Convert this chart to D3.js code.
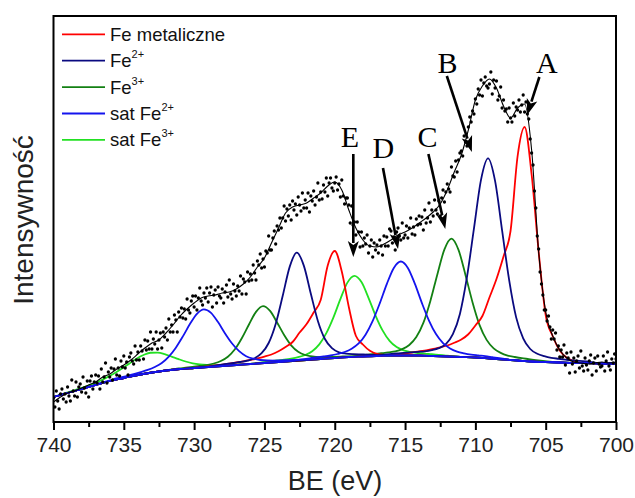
<!DOCTYPE html>
<html><head><meta charset="utf-8">
<script src="https://cdn.jsdelivr.net/npm/d3@7"></script>
<style>
html,body{margin:0;padding:0;background:#fff;}
svg{display:block;font-family:"Liberation Sans",Arial,sans-serif;}
</style></head><body>
<svg id="chart" width="635" height="498"></svg>
<script>
// ---------- DATA (binding energy in eV, intensity in arbitrary units) ----------
const xTicks = [740, 735, 730, 725, 720, 715, 710, 705, 700];
const xMinorTicks = [737.5, 732.5, 727.5, 722.5, 717.5, 712.5, 707.5, 702.5];

// Background (eV, a.u.)
const bgBE = [740,739,738,737,736,735,734,733,732,731,730,729,728,727,726,725,724,723,722,721,720,719,718,717,716,715,714,713,712,711,710,709,708,707,706,705,704,703,702,701,700];
const bgI  = [25,29,33,37,41,44,47,49.5,51.5,53,54,55,56,57,58,59,60,61,62,63,64,65,65.5,66,66.5,66.5,66.5,66,65.5,65,64.5,63.5,62.5,61.5,60.5,60,59.5,59,59,58.5,58.5];

// Measured spectrum: first point 740.0 eV, step -0.1 eV
const dataStartBE = 740.0, dataStepBE = 0.1;
const dataI = [
24,15,31,21,13,28,33,23,28,20, 35,26,21,42,31,26,40,25,35,38,
30,45,34,29,41,25,41,46,33,40, 47,39,46,33,53,40,45,59,39,50,
45,54,42,53,63,47,54,46,61,55, 66,54,60,47,65,69,61,58,76,62,
70,62,76,71,63,82,72,81,73,90, 73,83,78,90,73,82,89,74,90,85,
94,82,103,90,97,90,107,102,90,110, 105,114,104,113,103,123,112,109,121,126,
115,126,112,124,134,121,117,129,124,134, 120,129,135,115,127,132,119,135,126,124,
133,119,130,137,125,142,128,123,138,131, 126,136,131,146,128,143,140,128,150,141,
148,142,157,149,142,161,157,168,154,163, 155,171,169,186,172,172,184,191,178,196,
192,204,194,204,216,201,213,206,217,202, 221,212,218,207,225,217,211,229,214,222,
214,229,210,226,221,231,217,225,239,222, 230,223,237,230,244,226,239,244,234,231,
239,245,232,238,225,242,226,218,224,224, 217,199,216,197,200,187,200,190,175,190,
176,184,178,187,169,176,182,165,179,172, 177,169,182,176,167,186,176,185,176,193,
191,179,185,172,190,194,186,182,199,184, 187,196,184,194,204,188,195,187,203,197,
206,198,205,192,212,199,204,219,200,212, 206,222,212,208,221,206,224,232,220,230,
238,233,230,255,246,245,261,250,262,269, 271,266,286,280,276,295,305,300,311,308,
323,318,333,327,342,326,339,345,336,334, 338,350,328,342,334,341,322,326,335,314,
322,311,313,300,314,304,300,319,306,315, 312,322,310,317,327,310,320,308,303,283,
269,257,231,214,186,173,150,138,127,112, 112,101,106,95,83,92,83,89,72,76,
65,72,65,77,57,69,64,49,70,58, 64,50,61,66,54,71,56,51,64,57,
52,61,67,47,59,64,51,66,58,55, 56,66,51,61,70,56,52,63,59,68,
63];

// Fit envelope: first point 740 eV, step -0.5 eV
const fitStartBE = 740.0, fitStepBE = 0.5;
const fitI = [20,25,29,31,34,37,40,45,48,53,57,62,68,74,79,82,89,97,106,113,
119,124,126,127,129,130,133,138,145,155,164,179,194,209,215,217,219,224,229,236,
240,232,212,194,182,176,175,178,182,187,190,194,199,204,210,218,232,250,267,292,
322,336,343,334,316,304,314,318,272,170,110,86,72,64,60,59,58,59,60,59,60];

// Fitted components: intensity above background, step -0.5 eV from start
const compStepBE = 0.5;
const metal32Start = 716.5;
const metal32 = [0,0.7,1.4,2,3,4.2,5.4,7,9,11,14,17.5,23,32,42,61,80,103,129,204,234,187,110,47,26,12,5,2,0];
const metal12Start = 730.0;
const metal12 = [0,0.3,0.6,1,1.4,1.9,2.5,3.2,4.1,5.1,6.4,8,10.7,14.5,19,28,36,47,59,93,107,86,50,21,12,5.4,2.1,0.9,0];
const fe2p32Start = 717.1;
const fe2p32 = [0,0.8,1.5,2.2,2.6,3.1,3.7,4.4,5.8,8,12.4,22.6,43,80,129,178,200,178,129,80,43,22.6,12.4,8,5.8,4.4,3.7,3.1,2.6,2.2,1.5,0.8,0];
const fe2p12Start = 729.2;
const fe2p12 = [0,0.6,1.2,1.8,2.2,2.7,3.6,5.4,10,19.7,38.3,65.9,94.6,108,94.6,65.9,38.3,19.7,10,5.4,3.6,2.7,2.2,1.8,1.2,0.6,0];
const fe3p32Start = 719.2;
const fe3p32 = [0,0.5,1.0,1.6,2.2,2.6,3.3,4.2,6.4,10.5,18.4,32.7,55,82,107,118,107,82,55,32.7,18.4,10.5,6.4,4.2,3.3,2.6,2.2,1.6,1.0,0.5,0];
const fe3p12Start = 732.6;
const fe3p12 = [0,0.2,0.4,0.7,1.0,1.3,1.6,2,3.1,5.1,8.9,15.8,26.6,39.6,51.7,57,51.7,39.6,26.6,15.8,8.9,5.1,3.1,2,1.6,1.3,1.0,0.7,0.4,0.2,0];
const sat2p32Start = 723.3;
const sat2p32 = [0,0.5,1.0,1.5,2.0,2.3,2.8,3.8,5.3,8.2,13.2,22,35.3,52.5,71.6,87.6,94,87.6,71.6,52.5,35.3,22,13.2,8.2,5.3,3.8,2.8,2.3,2.0,1.5,1.0,0.5,0];
const sat2p12Start = 737.3;
const sat2p12 = [0,0.3,0.6,0.9,1.2,1.4,1.7,2.3,3.3,5.1,8.1,13.6,21.8,32.4,44.2,54,58,54,44.2,32.4,21.8,13.6,8.1,5.1,3.3,2.3,1.7,1.4,1.2,0.9,0.6,0.3,0];
const sat3p32Start = 726.1;
const sat3p32 = [0,0.5,0.9,1.3,1.7,2.0,2.5,3.4,5.1,8.4,14.7,25.4,40.5,58.5,74.5,81,74.5,58.5,40.5,25.4,14.7,8.4,5.1,3.4,2.5,2.0,1.7,1.3,0.9,0.5,0];
const sat3p12Start = 740.1;
const sat3p12 = [0.1,0.3,0.5,0.7,1.0,1.4,2.1,3.2,4.8,7.1,10,13.3,16.6,19,20,19,16.6,13.3,10,7.1,4.8,3.2,2.1,1.4,1.0,0.7,0.5,0.3,0.1,0];

// Legend
const legendNames = ["Fe metaliczne", "Fe", "Fe", "sat Fe", "sat Fe"];
const legendSups  = ["", "2+", "3+", "2+", "3+"];
const legendColors = ["#ff0000", "#0a0a80", "#138013", "#1414ee", "#22e022"];

// Annotations (letters and arrows), in data coordinates
const annoLabels = ["A", "B", "C", "D", "E"];
const annoLabelBE = [704.92, 711.98, 713.41, 716.54, 718.93];
const annoLabelI  = [349, 349, 275, 264, 275];
const arrowFromBE = [705.45, 712.03, 713.34, 716.57, 718.68];
const arrowFromI  = [345, 346, 268, 254, 268];
const arrowToBE   = [706.32, 710.25, 712.14, 715.5, 718.68];
const arrowToI    = [307, 270, 193, 173, 165];

// ---------- CHART ----------
const svg = d3.select("#chart");
const P = {left: 53.5, right: 616, top: 16, bottom: 422};
const x = d3.scaleLinear().domain([740, 700]).range([P.left, P.right]);
const y = d3.scaleLinear().domain([0, 406]).range([P.bottom, P.top]);
const bg = d3.scaleLinear().domain(bgBE).range(bgI);

svg.append("defs").append("clipPath").attr("id", "plotclip")
  .append("rect").attr("x", P.left).attr("y", P.top)
  .attr("width", P.right - P.left).attr("height", P.bottom - P.top);

const plot = svg.append("g").attr("clip-path", "url(#plotclip)");

const components = [
  {start: sat3p32Start, vals: sat3p32, color: legendColors[4]},
  {start: sat3p12Start, vals: sat3p12, color: legendColors[4]},
  {start: fe3p32Start, vals: fe3p32, color: legendColors[2]},
  {start: fe3p12Start, vals: fe3p12, color: legendColors[2]},
  {start: metal32Start, vals: metal32, color: legendColors[0]},
  {start: metal12Start, vals: metal12, color: legendColors[0]},
  {start: fe2p32Start, vals: fe2p32, color: legendColors[1]},
  {start: fe2p12Start, vals: fe2p12, color: legendColors[1]},
  {start: sat2p32Start, vals: sat2p32, color: legendColors[3]},
  {start: sat2p12Start, vals: sat2p12, color: legendColors[3]}
];

function compPoints(c) {
  const end = c.start - compStepBE * (c.vals.length - 1);
  const pts = [];
  bgBE.forEach(be => { if (be > c.start + 0.05 || be < end - 0.05) pts.push([be, bg(be)]); });
  c.vals.forEach((v, i) => { const be = c.start - compStepBE * i; pts.push([be, bg(be) + v]); });
  pts.sort((a, b) => b[0] - a[0]);
  return pts;
}

const line = d3.line().x(d => x(d[0])).y(d => y(d[1])).curve(d3.curveMonotoneX);

components.forEach(c => {
  plot.append("path").datum(compPoints(c))
    .attr("d", line).attr("fill", "none")
    .attr("stroke", c.color).attr("stroke-width", 1.8);
});

// fit envelope
const fitPts = fitI.map((v, i) => [fitStartBE - fitStepBE * i, v]);
plot.append("path").datum(fitPts).attr("d", line)
  .attr("fill", "none").attr("stroke", "#000").attr("stroke-width", 1.1);

// data points
const dataPts = dataI.map((v, i) => [dataStartBE - dataStepBE * i, v]);
plot.append("g").selectAll("circle").data(dataPts).join("circle")
  .attr("cx", d => x(d[0])).attr("cy", d => y(d[1])).attr("r", 1.65)
  .attr("fill", "#000");

// frame
svg.append("rect").attr("x", P.left).attr("y", P.top)
  .attr("width", P.right - P.left).attr("height", P.bottom - P.top)
  .attr("fill", "none").attr("stroke", "#000").attr("stroke-width", 2);

// bottom axis
const axMajor = svg.append("g").attr("transform", `translate(0,${P.bottom})`)
  .call(d3.axisBottom(x).tickValues(xTicks).tickSize(8).tickPadding(7).tickFormat(d3.format("d")));
axMajor.select(".domain").remove();
axMajor.selectAll(".tick line").attr("stroke", "#000").attr("stroke-width", 2);
axMajor.selectAll(".tick text").attr("font-size", 21).attr("fill", "#222")
  .attr("font-family", "'Liberation Sans', Arial, sans-serif");

const axMinor = svg.append("g").attr("transform", `translate(0,${P.bottom})`)
  .call(d3.axisBottom(x).tickValues(xMinorTicks).tickSize(5).tickFormat(""));
axMinor.select(".domain").remove();
axMinor.selectAll(".tick line").attr("stroke", "#000").attr("stroke-width", 2);

// axis titles
svg.append("text").attr("x", 335).attr("y", 490).attr("text-anchor", "middle")
  .attr("font-size", 27).attr("fill", "#222").text("BE (eV)");
svg.append("text").attr("transform", "translate(33,220) rotate(-90)")
  .attr("text-anchor", "middle").attr("font-size", 28).attr("fill", "#222")
  .text("Intensywność");

// legend
const lg = svg.append("g");
legendNames.forEach((name, i) => {
  const ly = 34.3 + i * 26.4;
  lg.append("line").attr("x1", 62).attr("x2", 105).attr("y1", ly).attr("y2", ly)
    .attr("stroke", legendColors[i]).attr("stroke-width", 1.8);
  const t = lg.append("text").attr("x", 110).attr("y", ly + 6.5)
    .attr("font-size", 18.5).attr("fill", "#111");
  t.append("tspan").text(name);
  if (legendSups[i]) t.append("tspan").attr("dy", -9).attr("font-size", 11).text(legendSups[i]);
});

// annotations
const ann = svg.append("g");
annoLabels.forEach((lab, i) => {
  ann.append("text").attr("x", x(annoLabelBE[i])).attr("y", y(annoLabelI[i]))
    .attr("text-anchor", "middle").attr("font-size", 30)
    .attr("font-family", "'Liberation Serif','Times New Roman',serif")
    .attr("fill", "#000").text(lab);
  const x0 = x(arrowFromBE[i]), y0 = y(arrowFromI[i]);
  const x1 = x(arrowToBE[i]), y1 = y(arrowToI[i]);
  const dx = x1 - x0, dy = y1 - y0, len = Math.hypot(dx, dy);
  const ux = dx / len, uy = dy / len;
  const hl = 16, hw = 5.5;
  const bx = x1 - ux * hl, by = y1 - uy * hl;
  ann.append("line").attr("x1", x0).attr("y1", y0).attr("x2", bx + ux * 2).attr("y2", by + uy * 2)
    .attr("stroke", "#000").attr("stroke-width", 2.6);
  ann.append("path")
    .attr("d", `M${x1},${y1}L${bx - uy * hw},${by + ux * hw}L${bx + ux * 4},${by + uy * 4}L${bx + uy * hw},${by - ux * hw}Z`)
    .attr("fill", "#000");
});
</script>
</body></html>
